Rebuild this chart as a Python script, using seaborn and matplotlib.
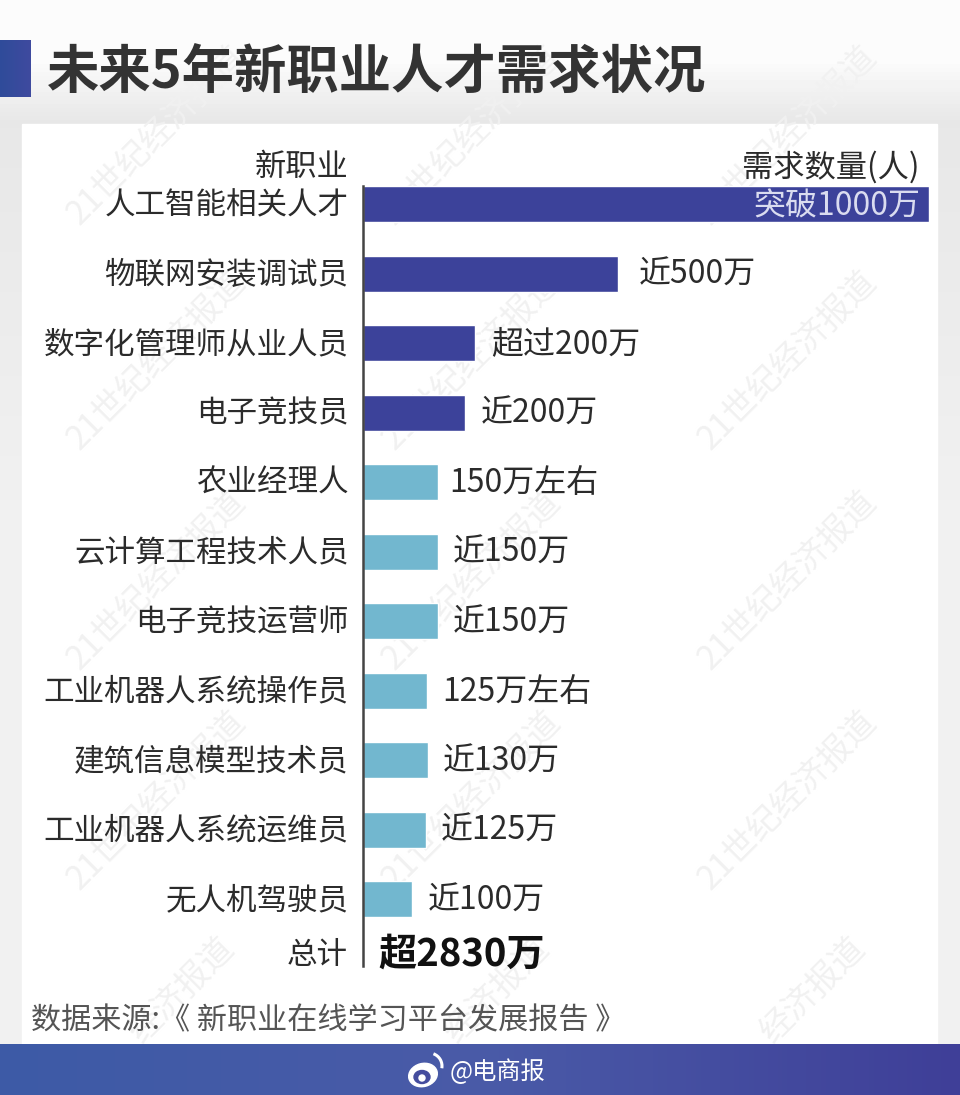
import numpy as np
import pandas as pd
import matplotlib
matplotlib.use("Agg")
import matplotlib.pyplot as plt
from matplotlib.patches import Rectangle, Ellipse, Arc
from matplotlib.transforms import ScaledTranslation
import seaborn as sns

# values, in 万人 (first bar is drawn longer than its scale)
jobs = ["人工智能相关人才", "物联网安装调试员", "数字化管理师从业人员", "电子竞技员", "农业经理人",
        "云计算工程技术人员", "电子竞技运营师", "工业机器人系统操作员", "建筑信息模型技术员",
        "工业机器人系统运维员", "无人机驾驶员"]
demand = [1110, 500, 219, 200, 147, 147, 147, 125, 127, 123, 97]
groups = ["dark", "dark", "dark", "dark", "light", "light", "light", "light", "light", "light", "light"]
value_labels = ["突破1000万", "近500万", "超过200万", "近200万", "150万左右", "近150万",
                "近150万", "125万左右", "近130万", "近125万", "近100万"]
total_label = "总计"
total_value = "超2830万"

W, H = 960, 1095
DARK = "#3C429A"
LIGHT = "#72B7CF"
TEXT = "#2B2B2B"

sns.set_theme(style="white")
plt.rcParams["font.family"] = ["Noto Sans CJK SC", "DejaVu Sans"]

fig = plt.figure(figsize=(W / 100, H / 100), dpi=100)

# background layer in pixel coords
bg = fig.add_axes([0, 0, 1, 1], zorder=0)
bg.set_xlim(0, W)
bg.set_ylim(H, 0)
bg.axis("off")

xx, yy = np.meshgrid(np.linspace(0, W, 240), np.linspace(0, H, 274))
shade = 0.985 - 0.085 * np.clip((yy - 60) / 60, 0, 1) * np.clip(1 - (yy - 60) / 900, 0.5, 1)
bg.imshow(shade, extent=[0, W, H, 0], cmap="gray", vmin=0, vmax=1, aspect="auto", zorder=0)

bg.add_patch(Rectangle((22, 124), 915, 925, color="white", zorder=1))

# watermarks, the last row only shows its end above the footer
for x0 in [157, 472, 788]:
    for y0 in [135, 360, 580, 800]:
        bg.text(x0, y0, "21世纪经济报道", rotation=45, fontsize=24, color="#F1F1F1",
                ha="center", va="center", zorder=2)
    bg.text(x0 + 25, 990, "经济报道", rotation=45, fontsize=24, color="#F1F1F1",
            ha="center", va="center", zorder=2)

# title block and footer
block = np.linspace(0, 1, 32).reshape(1, -1)
bg.imshow(block, extent=[0, 31, 97, 40], aspect="auto", zorder=3,
          cmap=matplotlib.colors.LinearSegmentedColormap.from_list("b", ["#2F4C9A", "#3F4A9F"]))
foot = np.linspace(0, 1, 200).reshape(1, -1)
bg.imshow(foot, extent=[0, W, 1095, 1044], aspect="auto", zorder=3,
          cmap=matplotlib.colors.LinearSegmentedColormap.from_list("f", ["#3D5AA6", "#4A5BA8", "#3F3F98"]))
bg.set_xlim(0, W)
bg.set_ylim(H, 0)

bg.text(47, 73, "未来5年新职业人才需求状况", fontsize=37.7, weight="bold", color="#333333",
        va="center", ha="left", zorder=4)
bg.text(31, 1021, "数据来源:《 新职业在线学习平台发展报告 》", fontsize=21.7, color="#555555",
        va="center", ha="left", zorder=4)
bg.text(450, 1072, "@电商报", fontsize=17.5, color="white", va="center", ha="left", zorder=4)

# weibo logo
bg.add_patch(Ellipse((423, 1075), 29, 23, angle=-15, color="white", zorder=4))
bg.add_patch(Ellipse((422, 1077), 16, 13, color="#444C9E", zorder=5))
bg.add_patch(Ellipse((422, 1078), 6, 6, color="white", zorder=6))
bg.add_patch(Arc((429, 1066), 26, 26, theta1=-70, theta2=10, color="white", lw=2.2, zorder=5))

# chart axes: y0=186 to 966 px, x0=363 to 929 px
ax = fig.add_axes([363 / W, 1 - 966 / H, 566 / W, 780 / H], zorder=5)
ax.patch.set_alpha(0)

df = pd.DataFrame({"job": jobs, "demand": demand, "group": groups})
sns.barplot(data=df, x="demand", y="job", hue="group", dodge=False, width=0.518,
            palette={"dark": DARK, "light": LIGHT}, legend=False, saturation=1, ax=ax)

ax.set_xlim(0, 1110)
ax.set_ylim(10.96, -0.259)
ax.set_xlabel("")
ax.set_ylabel("")
ax.set_xticks([])
ax.tick_params(axis="y", length=0, pad=10.5, labelsize=22, labelcolor=TEXT)
sns.despine(ax=ax, top=True, right=True, bottom=True)
ax.spines["left"].set_color("#444444")
ax.spines["left"].set_linewidth(1.8)

# nudge the category labels up a little
for lab in ax.get_yticklabels():
    lab.set_transform(lab.get_transform() + ScaledTranslation(0, 2 / 100, fig.dpi_scale_trans))

# value labels, gap after the bar in points
gaps = {1: 15, 2: 12, 4: 8}
for i, (v, lab) in enumerate(zip(demand, value_labels)):
    if i == 0:
        ax.text(v - 17, i + 0.04, lab, color="#DADCF0", fontsize=23, va="center", ha="right")
    else:
        ax.annotate(lab, (v, i), xytext=(gaps.get(i, 11), -1), textcoords="offset points",
                    fontsize=23, color=TEXT, va="center", ha="left")

# header row and total row sit in pixel coords
bg.text(348, 167, "新职业", fontsize=22.5, color=TEXT, ha="right", va="center", zorder=6)
bg.text(920, 167, "需求数量(人)", fontsize=22.5, color=TEXT, ha="right", va="center", zorder=6)
bg.text(348, 955, total_label, fontsize=22, color=TEXT, ha="right", va="center", zorder=6)
bg.text(378, 954, total_value, fontsize=27.5, color="#111111", weight="bold", ha="left", va="center", zorder=6)

fig.savefig("out.png", dpi=100)
